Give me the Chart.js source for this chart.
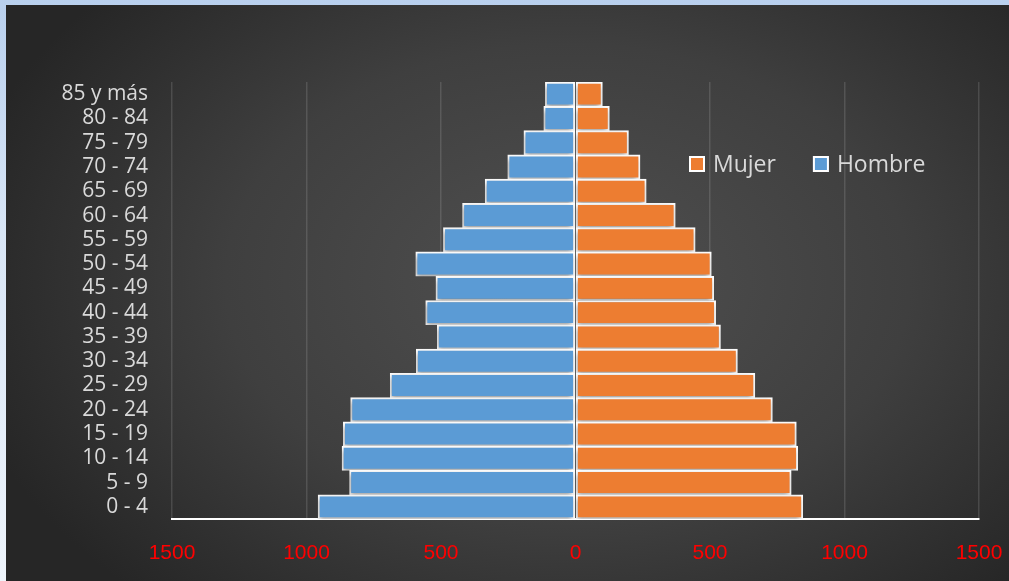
<!DOCTYPE html>
<html>
<head>
<meta charset="utf-8">
<title>Pirámide de población</title>
<script src="https://cdn.jsdelivr.net/npm/chart.js@4.4.1/dist/chart.umd.min.js"></script>
<style>
    html, body { margin: 0; padding: 0; }
    body {
        width: 1009px;
        height: 581px;
        overflow: hidden;
        background: linear-gradient(to bottom, #b9d0ee 0%, #d9e6f6 40%, #eef4fb 100%);
    }
    #chart-box {
        position: absolute;
        left: 6px;
        top: 5px;
        width: 1003px;
        height: 576px;
        background: radial-gradient(ellipse 62% 75% at 56% 48%, #505050 0%, #3f3f3f 55%, #262626 100%);
    }
</style>
</head>
<body>
<div id="chart-box">
    <canvas id="pyramid"></canvas>
</div>
<script>
// Age groups, top of the pyramid first
var ageGroups = ['85 y más', '80 - 84', '75 - 79', '70 - 74', '65 - 69', '60 - 64', '55 - 59', '50 - 54',
    '45 - 49', '40 - 44', '35 - 39', '30 - 34', '25 - 29', '20 - 24', '15 - 19', '10 - 14', '5 - 9', '0 - 4'];
var mujer = [100, 126, 197, 240, 263, 371, 445, 505, 514, 521, 539, 602, 667, 732, 821, 826, 802, 845];
var hombre = [112, 118, 192, 252, 336, 420, 491, 594, 519, 557, 514, 592, 689, 836, 863, 868, 840, 957];
var axisMax = 1500; // axis goes from -1500 to 1500
var axisStep = 500;

var labelColor = '#d9d9d9';

// Hombre goes to the left, so it is drawn as negative numbers
var hombreLeft = hombre.map(function (v) { return -v; });

// Soft shadow under the bars
var barShadow = {
    id: 'barShadow',
    beforeDatasetsDraw: function (chart) {
        var ctx = chart.ctx;
        ctx.save();
        ctx.shadowColor = 'rgba(0, 0, 0, 0.45)';
        ctx.shadowBlur = 5;
        ctx.shadowOffsetX = -1;
        ctx.shadowOffsetY = 2;
    },
    afterDatasetsDraw: function (chart) {
        chart.ctx.restore();
    }
};

// Legend sits inside the plot, to the right of the top bars
var innerLegend = {
    id: 'innerLegend',
    afterDraw: function (chart) {
        var ctx = chart.ctx;
        var x = 683;
        var y = 159;
        ctx.save();
        ctx.font = '23px "Open Sans"';
        ctx.textBaseline = 'middle';
        chart.data.datasets.forEach(function (ds) {
            ctx.fillStyle = ds.backgroundColor;
            ctx.fillRect(x, y - 8, 16, 16);
            ctx.strokeStyle = '#ffffff';
            ctx.lineWidth = 2;
            ctx.strokeRect(x + 1, y - 7, 14, 14);
            ctx.fillStyle = labelColor;
            ctx.fillText(ds.label, x + 24, y + 1);
            x += 24 + ctx.measureText(ds.label).width + 37;
        });
        ctx.restore();
    }
};

var ctx = document.getElementById('pyramid').getContext('2d');
var chart = new Chart(ctx, {
    type: 'bar',
    data: {
        labels: ageGroups,
        datasets: [{
            label: 'Mujer',
            data: mujer,
            backgroundColor: '#ed7d31',
            borderColor: '#ffffff',
            borderWidth: 2,
            borderSkipped: false
        }, {
            label: 'Hombre',
            data: hombreLeft,
            backgroundColor: '#5b9bd5',
            borderColor: '#ffffff',
            borderWidth: 2,
            borderSkipped: false
        }]
    },
    options: {
        indexAxis: 'y',
        responsive: true,
        maintainAspectRatio: false,
        animation: false,
        layout: { padding: { top: 77, right: 30, left: 0, bottom: 0 } },
        datasets: {
            bar: { barPercentage: 1, categoryPercentage: 1 }
        },
        scales: {
            x: {
                stacked: true,
                min: -axisMax,
                max: axisMax,
                ticks: {
                    stepSize: axisStep,
                    color: '#ff0000',
                    font: { family: '"Liberation Sans"', size: 21 },
                    padding: 0,
                    callback: function (value) { return Math.abs(value); } // both sides show positive counts
                },
                grid: {
                    color: 'rgba(255, 255, 255, 0.13)',
                    lineWidth: 1.5,
                    drawTicks: true,
                    tickLength: 22, // invisible ticks push the labels down
                    tickColor: 'rgba(0, 0, 0, 0)'
                },
                border: { display: true, color: '#ffffff', width: 2 },
                afterFit: function (scale) { scale.height = 62; }
            },
            y: {
                stacked: true,
                ticks: {
                    color: labelColor,
                    font: { family: '"Open Sans"', size: 21 },
                    padding: 24,
                    autoSkip: false
                },
                grid: { display: false, drawTicks: false },
                border: { display: false },
                afterFit: function (scale) { scale.width = 166; }
            }
        },
        plugins: {
            legend: { display: false },
            tooltip: { enabled: false }
        }
    },
    plugins: [barShadow, innerLegend]
});
</script>
</body>
</html>
